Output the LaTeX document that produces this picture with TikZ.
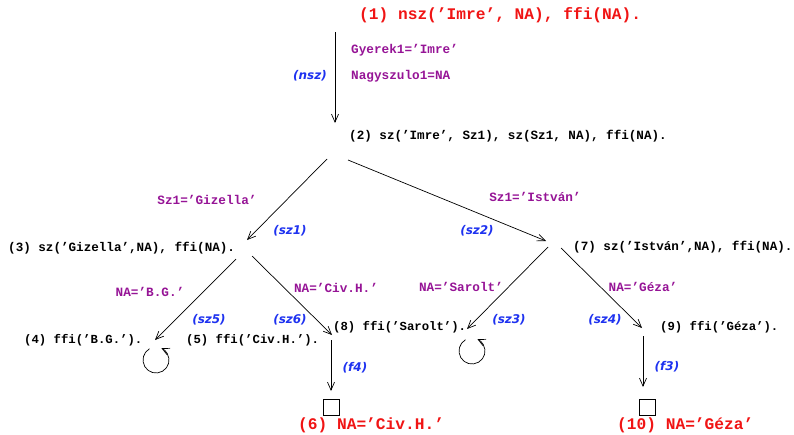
\documentclass[tikz,border=0pt]{standalone}
\usepackage{fontspec}
\setmonofont{Liberation Mono}
\newfontfamily\lblfont{DejaVu Sans}
\usetikzlibrary{arrows.meta,calc}
\definecolor{tred}{RGB}{240,20,20}
\definecolor{tpurple}{RGB}{150,20,150}
\definecolor{tblue}{RGB}{30,50,240}
\tikzset{
  goal/.style={inner sep=0pt,anchor=west,font=\ttfamily\bfseries\fontsize{12.6}{14}\selectfont},
  leafgoal/.style={goal,font=\ttfamily\bfseries\fontsize{12.3}{14}\selectfont},
  bigred/.style={inner sep=0pt,anchor=west,text=tred,font=\ttfamily\bfseries\fontsize{16.2}{18}\selectfont},
  bind/.style={inner sep=0pt,text=tpurple,font=\ttfamily\bfseries\fontsize{12.7}{14}\selectfont},
  rule/.style={inner sep=0pt,text=tblue,font=\lblfont\bfseries\itshape\fontsize{12}{14}\selectfont},
  edge/.style={line width=0.7pt,-{Straight Barb[length=8pt,width=7pt,line width=0.7pt]}},
  loopy/.style={line width=0.7pt,-{Straight Barb[length=7pt,width=7pt,line width=0.7pt]}},
  leaf/.style={draw,line width=0.7pt,minimum size=16pt,inner sep=0pt}
}
\begin{document}
\begin{tikzpicture}[x=1pt,y=-1pt]
\useasboundingbox (0,0) rectangle (794,434);
% goals
\node[bigred] (n1) at (359,15) {(1) nsz(’Imre’, NA), ffi(NA).};
\node[goal] (n2) at (349,136) {(2) sz(’Imre’, Sz1), sz(Sz1, NA), ffi(NA).};
\node[goal] (n3) at (8,248) {(3) sz(’Gizella’,NA), ffi(NA).};
\node[goal] (n7) at (573,247) {(7) sz(’István’,NA), ffi(NA).};
\node[leafgoal] (n4) at (24,340) {(4) ffi(’B.G.’).};
\node[leafgoal] (n5) at (186,340) {(5) ffi(’Civ.H.’).};
\node[leafgoal] (n8) at (333,327) {(8) ffi(’Sarolt’).};
\node[leafgoal] (n9) at (660,327) {(9) ffi(’Géza’).};
\node[bigred] (n6) at (298,425.5) {(6) NA=’Civ.H.’};
\node[bigred] (n10) at (617,425.5) {(10) NA=’Géza’};
% success boxes
\node[leaf] (s6) at (331,407) {};
\node[leaf] (s10) at (647,407) {};
% connector ends
\coordinate (a1) at (335,32);
\coordinate (a2) at (335,123);
\coordinate (b2l) at (327,159);
\coordinate (b3) at (247,240);
\coordinate (b2r) at (348,160);
\coordinate (b7) at (546,241);
\coordinate (c3l) at (236,259);
\coordinate (c4) at (155,340);
\coordinate (c3r) at (252,256);
\coordinate (c8) at (332,335);
\coordinate (c7l) at (548,247);
\coordinate (c9s) at (467,329);
\coordinate (c7r) at (561,248);
\coordinate (c9) at (642,328);
\coordinate (d8) at (331,340);
\coordinate (d6) at (331,391);
\coordinate (d9) at (643,336);
\coordinate (d10) at (643,387);
\coordinate (l4) at (156,360);
\coordinate (l8) at (472,351);
% edges
\draw[edge] (a1) -- (a2);
\draw[edge] (b2l) -- (b3);
\draw[edge] (b2r) -- (b7);
\draw[edge] (c3l) -- (c4);
\draw[edge] (c3r) -- (c8);
\draw[edge] (c7l) -- (c9s);
\draw[edge] (c7r) -- (c9);
\draw[edge] (d8) -- (d6);
\draw[edge] (d9) -- (d10);
% failure loops
\draw[loopy] ($(l4)+(-120:13)$) arc[start angle=-120,end angle=-425,radius=13];
\draw[loopy] ($(l8)+(-120:13)$) arc[start angle=-120,end angle=-425,radius=13];
% bindings
\node[bind,anchor=west] (g1) at (351,50) {Gyerek1=’Imre’};
\node[bind,anchor=west] (g2) at (351,76) {Nagyszulo1=NA};
\node[bind] (g3) at (207,200) {Sz1=’Gizella’};
\node[bind] (g4) at (535,197) {Sz1=’István’};
\node[bind] (g5) at (150,292) {NA=’B.G.’};
\node[bind] (g6) at (336,288) {NA=’Civ.H.’};
\node[bind] (g7) at (461,287) {NA=’Sarolt’};
\node[bind] (g8) at (643,287) {NA=’Géza’};
% rule labels
\node[rule,anchor=east] (r1) at (327,76) {(nsz)};
\node[rule] (r2) at (290,231) {(sz1)};
\node[rule] (r3) at (477,231) {(sz2)};
\node[rule] (r4) at (209,320) {(sz5)};
\node[rule] (r5) at (290,320) {(sz6)};
\node[rule] (r6) at (509,320) {(sz3)};
\node[rule] (r7) at (605,320) {(sz4)};
\node[rule] (r8) at (355,368) {(f4)};
\node[rule] (r9) at (667,367) {(f3)};
\end{tikzpicture}
\end{document}
